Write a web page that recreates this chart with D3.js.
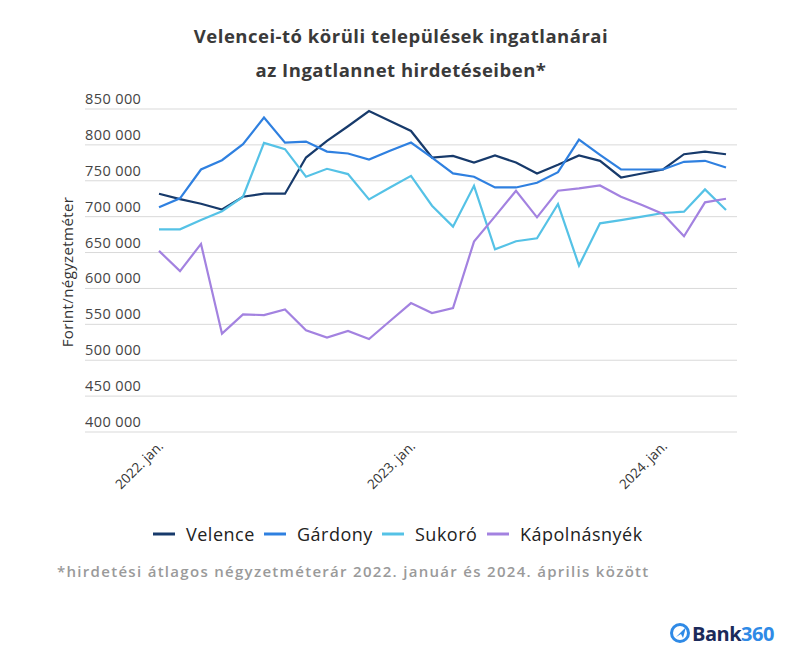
<!DOCTYPE html>
<html><head><meta charset="utf-8">
<script src="https://cdn.jsdelivr.net/npm/d3@7"></script>
<style>
body{margin:0;background:#fff;}
svg{display:block;}
</style></head>
<body><svg id="c" width="809" height="663"></svg>
<script>
const months = ["2022-01","2022-02","2022-03","2022-04","2022-05","2022-06","2022-07","2022-08","2022-09","2022-10","2022-11","2022-12",
"2023-01","2023-02","2023-03","2023-04","2023-05","2023-06","2023-07","2023-08","2023-09","2023-10","2023-11","2023-12",
"2024-01","2024-02","2024-03","2024-04"];
const velence = [732000,724500,718000,710000,727800,732000,732000,782400,805500,826000,847200,833300,819400,782400,784700,775500,785200,775500,760200,772200,785200,777800,754600,760200,765700,787000,790700,787000];
const gardony = [713000,725500,765700,778700,800900,838000,803200,804600,790700,788000,779600,791700,803200,782400,760200,755600,740700,740700,747200,762000,807400,786100,765700,765700,765700,776400,777800,768500];
const sukoro = [682400,682400,695300,707400,727800,802800,794000,755600,766700,759300,724100,740700,756900,715300,686100,743000,654600,665700,669900,717600,631900,690700,695300,700000,705100,706900,738000,709300];
const kapolnasnyek = [652300,624100,662000,537000,563900,562900,570800,541700,531500,540700,529600,554600,579600,565700,572700,665300,700400,736100,699100,736100,739400,743500,727800,716200,703700,672700,720000,725000];
const seriesNames = ["Velence","Gárdony","Sukoró","Kápolnásnyék"];
const seriesColors = ["#173a6b","#2f80e0","#55c2e6","#a382e0"];
const yTicks = [400000,450000,500000,550000,600000,650000,700000,750000,800000,850000];
const xTickIdx = [0,12,24];
const xTickLabels = ["2022. jan.","2023. jan.","2024. jan."];

const allSeries = [velence,gardony,sukoro,kapolnasnyek];
const svg = d3.select("#c");
const font = "'Open Sans', sans-serif";

const x = d3.scalePoint().domain(months).range([159,726]);
const y = d3.scaleLinear().domain([400000,850000]).range([432,109]);

// title
[["Velencei-tó körüli települések ingatlanárai",43],["az Ingatlannet hirdetéseiben*",77]].forEach(([t,yy])=>{
  svg.append("text").attr("x",401).attr("y",yy).attr("text-anchor","middle")
    .attr("font-family",font).attr("font-weight",700).attr("font-size",18.5).attr("letter-spacing",0.5)
    .attr("fill","#3a3a3a").text(t);
});

// grid + y labels
const fmt = v => d3.format(",")(v).replace(/,/g," ");
const g = svg.append("g");
g.selectAll("line.grid").data(yTicks).join("line")
  .attr("x1",85).attr("x2",737).attr("y1",d=>y(d)).attr("y2",d=>y(d))
  .attr("stroke","#d9d9d9").attr("stroke-width",1);
g.selectAll("text.yl").data(yTicks).join("text")
  .attr("x",85).attr("y",d=>y(d)-5)
  .attr("font-family",font).attr("font-size",14.5).attr("letter-spacing",0.4).attr("fill","#444")
  .text(d=>fmt(d));

// y title
svg.append("text").attr("transform","translate(73,272) rotate(-90)").attr("text-anchor","middle")
  .attr("font-family",font).attr("font-size",15).attr("letter-spacing",0.4).attr("fill","#333")
  .text("Forint/négyzetméter");

// x labels
svg.selectAll("text.xl").data(xTickIdx).join("text")
  .attr("transform",(d)=>`translate(${x(months[d])+5},447) rotate(-45)`)
  .attr("text-anchor","end")
  .attr("font-family",font).attr("font-size",13.5).attr("fill","#333")
  .text((d,i)=>xTickLabels[i]);

// lines
const line = d3.line().x((d,i)=>x(months[i])).y(d=>y(d));
allSeries.forEach((s,k)=>{
  svg.append("path").datum(s).attr("d",line).attr("fill","none")
    .attr("stroke",seriesColors[k]).attr("stroke-width",2.2).attr("stroke-linejoin","miter");
});

// legend
const legTextX = [186,297,415,520];
const lg = svg.append("g");
seriesNames.forEach((n,k)=>{
  lg.append("line").attr("x1",legTextX[k]-33).attr("x2",legTextX[k]-11).attr("y1",534).attr("y2",534)
    .attr("stroke",seriesColors[k]).attr("stroke-width",3);
  lg.append("text").attr("x",legTextX[k]).attr("y",540.5)
    .attr("font-family",font).attr("font-size",18).attr("letter-spacing",0.5).attr("fill","#222").text(n);
});

// footnote
svg.append("text").attr("x",57).attr("y",577)
  .attr("font-family",font).attr("font-weight",600).attr("font-size",15).attr("fill","#9a9a9a")
  .attr("letter-spacing",1.3)
  .text("*hirdetési átlagos négyzetméterár 2022. január és 2024. április között");

// logo
const logo = svg.append("g");
logo.append("circle").attr("cx",680).attr("cy",633).attr("r",8.5).attr("fill","none").attr("stroke","#2f8ae6").attr("stroke-width",3);
logo.append("path").attr("d","M676,637 L686,627 L683,638 L681,634 Z").attr("fill","#2f8ae6");
logo.append("text").attr("x",692).attr("y",641).attr("font-family",font).attr("font-weight",700).attr("font-size",20)
  .attr("letter-spacing",-0.5)
  .html('<tspan fill="#1b2a5a">Bank</tspan><tspan fill="#2f8ae6">360</tspan>');
</script></body></html>
